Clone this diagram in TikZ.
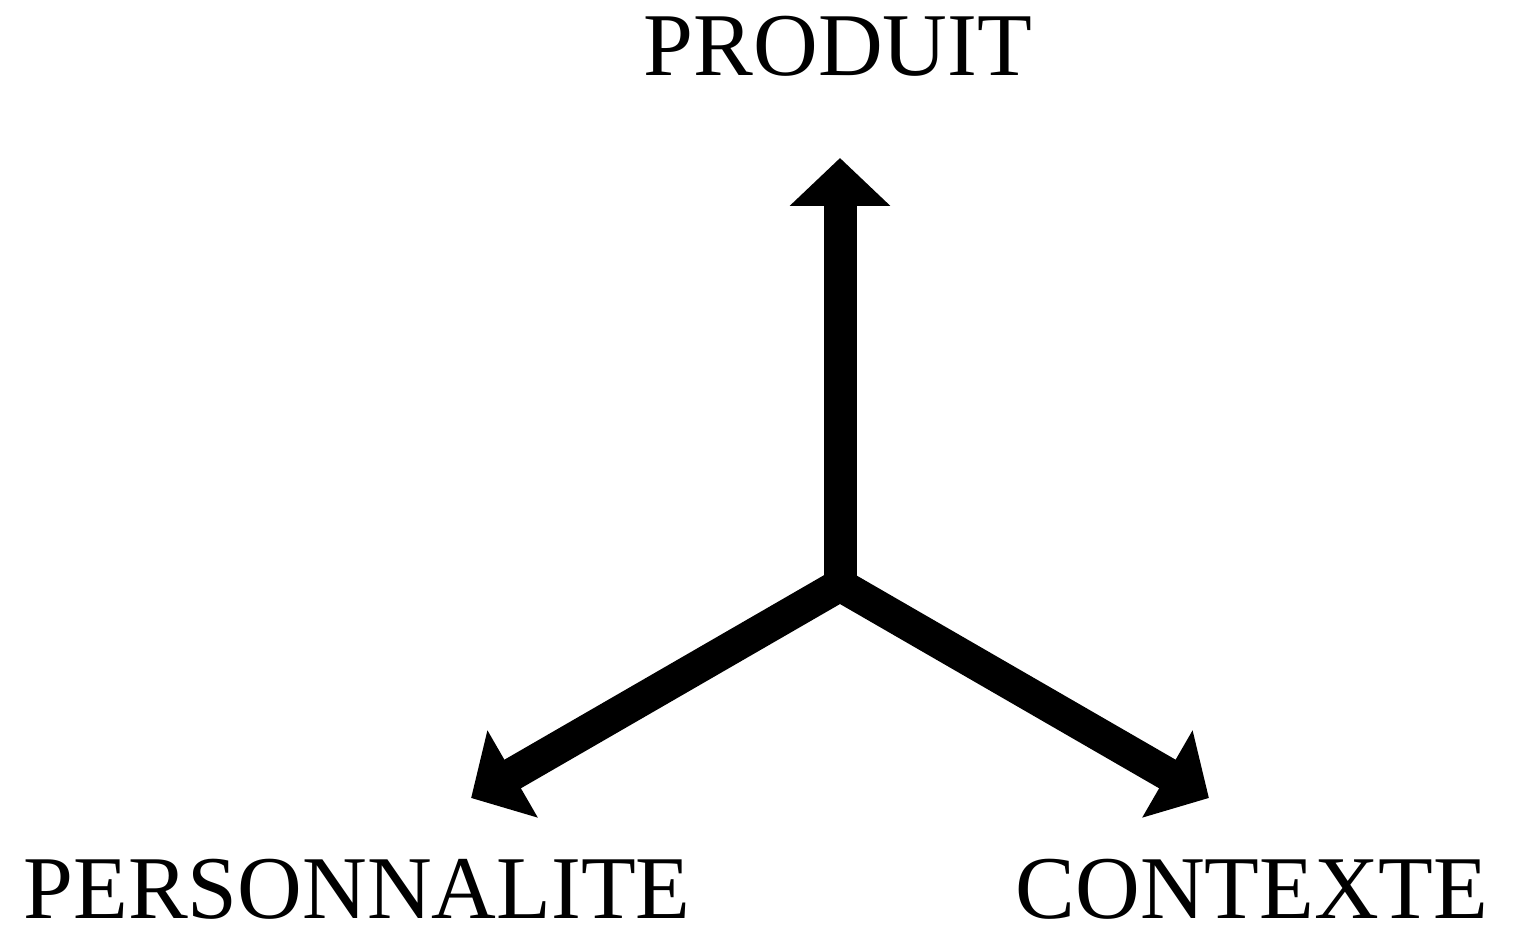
\documentclass[tikz,border=0pt]{standalone}
\usepackage{fontspec}
\setmainfont{Liberation Serif}
\usetikzlibrary{arrows.meta}
\usetikzlibrary{calc}

\begin{document}
\begin{tikzpicture}[>/.tip={Triangle[length=0.48cm,width=0.98cm]},
	axe/.style={line width=0.33cm,line join=miter},
	titre/.style={anchor=base,inner sep=0pt,font=\fontsize{25.5}{30}\selectfont}]
	\useasboundingbox (0,0) rectangle (15.19,9.27);

	\draw (8.38,8.51) node (produit) [titre] {PRODUIT};
	\draw (3.57,0.09) node (perso) [titre] {PERSONNALITE};
	\draw (12.52,0.09) node (contexte) [titre] {CONTEXTE};

	\coordinate (centre) at (8.40,3.42);
	\coordinate (haut) at ($(centre)+(90:4.27)$);
	\coordinate (gauche) at ($(centre)+(210:4.26)$);
	\coordinate (droite) at ($(centre)+(-30:4.26)$);

	\draw[axe,<->] (gauche) -- (centre) -- (droite);
	\draw[axe,->] (centre) -- (haut);
\end{tikzpicture}
\end{document}
